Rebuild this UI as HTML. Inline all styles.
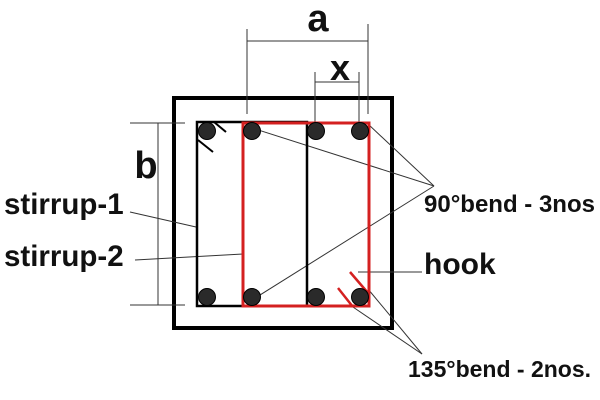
<!DOCTYPE html>
<html><head><style>body{margin:0;background:#fff}svg{display:block}text{font-family:"Liberation Sans",Arial,sans-serif;font-weight:bold;fill:#111}</style></head>
<body>
<svg width="600" height="400" viewBox="0 0 600 400" xmlns="http://www.w3.org/2000/svg">
<rect x="174" y="98" width="218" height="230" fill="none" stroke="#000" stroke-width="4"/>
<g stroke="#333" stroke-width="1" fill="none">
<line x1="247" y1="29" x2="247" y2="114"/><line x1="368" y1="24" x2="368" y2="114"/><line x1="247" y1="41" x2="368" y2="41"/>
<line x1="315" y1="72" x2="315" y2="122"/><line x1="359" y1="72" x2="359" y2="122"/><line x1="315" y1="82" x2="359" y2="82"/>
<line x1="158" y1="123" x2="158" y2="305"/><line x1="130" y1="123" x2="185" y2="123"/><line x1="130" y1="305" x2="185" y2="305"/>
<line x1="130" y1="212" x2="196" y2="227"/><line x1="135" y1="260" x2="243" y2="254"/>
<line x1="252" y1="128" x2="434" y2="186"/><line x1="368" y1="124" x2="434" y2="186"/><line x1="252" y1="300" x2="434" y2="186"/>
<line x1="358" y1="272" x2="422" y2="272"/>
<line x1="368" y1="289" x2="422" y2="354"/><line x1="350" y1="305" x2="422" y2="354"/>
</g>
<path d="M197 122 H307 V306 H197 Z" fill="none" stroke="#000" stroke-width="2.5"/>
<line x1="214" y1="122" x2="226" y2="132" stroke="#000" stroke-width="2"/>
<line x1="198" y1="140" x2="213" y2="152" stroke="#000" stroke-width="2"/>
<rect x="243" y="123" width="126" height="183" fill="none" stroke="#d42020" stroke-width="3"/>
<line x1="350" y1="272" x2="368" y2="293" stroke="#d42020" stroke-width="2.5"/>
<line x1="338" y1="288" x2="353" y2="307" stroke="#d42020" stroke-width="2.5"/>
<g fill="#2a2a2a" stroke="#000" stroke-width="1">
<circle cx="207" cy="131" r="8.5"/><circle cx="252" cy="131" r="8.5"/><circle cx="316" cy="131" r="8.5"/><circle cx="360" cy="131" r="8.5"/>
<circle cx="207" cy="297" r="8.5"/><circle cx="252" cy="297" r="8.5"/><circle cx="316" cy="297" r="8.5"/><circle cx="360" cy="297" r="8.5"/>
</g>
<text x="318" y="31" font-size="38" text-anchor="middle">a</text>
<text x="340" y="80" font-size="36" text-anchor="middle">x</text>
<text x="146" y="178" font-size="38" text-anchor="middle">b</text>
<text x="4" y="214" font-size="29.5">stirrup-1</text>
<text x="4" y="266" font-size="29.5">stirrup-2</text>
<text x="424" y="212" font-size="24">90°bend - 3nos</text>
<text x="424" y="274" font-size="30">hook</text>
<text x="408" y="377" font-size="23">135°bend - 2nos.</text>
</svg>
</body></html>
